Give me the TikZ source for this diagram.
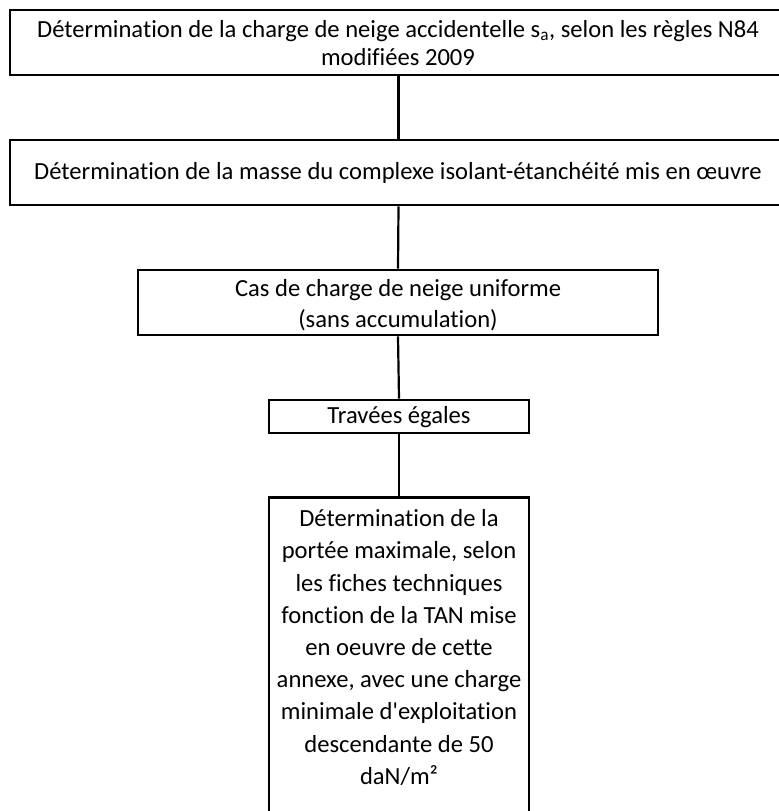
\documentclass[tikz,border=0pt]{standalone}
\usepackage{fontspec}
\newfontfamily\calfont[Ligatures=NoCommon]{Carlito}
\begin{document}
\begin{tikzpicture}[x=1bp,y=-1bp,
  box/.style={draw, line width=2.9bp, inner sep=0pt},
  txt/.style={inner sep=0pt, align=center,
    font=\calfont\fontsize{24.6bp}{28.5bp}\selectfont},
  conn/.style={draw, line width=2.2bp}]
\useasboundingbox (0,0) rectangle (779,811);
\node[box, minimum width=777bp, minimum height=65bp] (b1) at (398.5,42.5) {};
\node[txt] (t1) at (398,43)
  {Détermination de la charge de neige accidentelle s\textsubscript{a}, selon les règles N84\\modifiées 2009};
\node[box, minimum width=777bp, minimum height=65bp] (b2) at (398.5,172.5) {};
\node[txt] (t2) at (398,173)
  {Détermination de la masse du complexe isolant-étanchéité mis en œuvre};
\node[box, minimum width=520bp, minimum height=65bp] (b3) at (398,302.5) {};
\node[txt, font=\calfont\fontsize{24.6bp}{31bp}\selectfont] (t3) at (398,305.5)
  {Cas de charge de neige uniforme\\(sans accumulation)};
\node[box, minimum width=260bp, minimum height=33bp] (b4) at (399,416.5) {};
\node[txt] (t4) at (399,417.5) {Travées égales};
\node[box, minimum width=260bp, minimum height=340bp] (b5) at (399,667.5) {};
\node[txt, font=\calfont\fontsize{24.6bp}{32.2bp}\selectfont] (t5) at (399,647.5)
  {Détermination de la\\portée maximale, selon\\les fiches techniques\\fonction de la TAN mise\\en oeuvre de cette\\annexe, avec une charge\\minimale d\symbol{39}exploitation\\descendante de 50\\daN/m²};
\draw[conn] (b1.south) -- (b2.north);
\draw[conn] (b2.south) -- (b3.north);
\draw[conn] (b3.south) -- (b4.north);
\draw[conn] (b4.south) -- (b5.north);
\end{tikzpicture}
\end{document}
